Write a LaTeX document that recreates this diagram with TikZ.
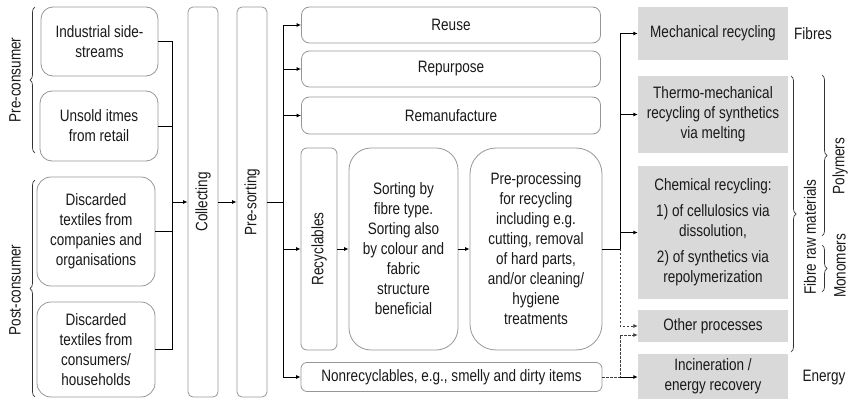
\documentclass[tikz,border=0pt]{standalone}
\usepackage{fontspec}
\setmainfont[FakeStretch=0.82]{Liberation Sans}
\usetikzlibrary{arrows.meta,decorations.pathreplacing}
\definecolor{boxline}{RGB}{150,150,150}
\definecolor{boxfill}{RGB}{217,217,217}
\definecolor{txt}{RGB}{25,25,25}
\tikzset{
  lbl/.style={font=\fontsize{16.5}{20}\selectfont, text=txt, inner sep=0pt},
  wbox/.style={lbl, draw=boxline, line width=0.8pt, align=center},
  gbox/.style={lbl, fill=boxfill, align=center, minimum width=150pt},
  conn/.style={line width=0.9pt, draw=black},
  arr/.style={conn, -{Latex[length=4.5pt,width=4pt]}},
  darr/.style={line width=0.8pt, draw=black!75, dash pattern=on 2.2pt off 1.8pt, -{Latex[length=4.5pt,width=4pt]}},
  brc/.style={draw=black!80, line width=0.7pt, decorate, decoration={brace, amplitude=5pt}},
}
\begin{document}
\begin{tikzpicture}[x=1pt,y=-1pt]
\useasboundingbox (0,0) rectangle (849,401);
% sources
\node[wbox, rounded corners=12pt, minimum width=117pt, minimum height=69pt] (src1) at (99.5,41.5) {Industrial side-\\streams};
\node[wbox, rounded corners=12pt, minimum width=118pt, minimum height=70pt] (src2) at (99,126) {Unsold itmes\\from retail};
\node[wbox, rounded corners=14pt, minimum width=118pt, minimum height=109pt] (src3) at (96,231.5) {Discarded\\textiles from\\companies and\\organisations};
\node[wbox, rounded corners=14pt, minimum width=118pt, minimum height=95pt] (src4) at (96,349.5) {Discarded\\textiles from\\consumers/\\households};
% columns
\node[wbox, rounded corners=5pt, minimum width=30pt, minimum height=390pt] (collect) at (203,202) {};
\node[lbl, rotate=90] (collecttxt) at (collect.center) {Collecting};
\node[wbox, rounded corners=5pt, minimum width=30pt, minimum height=390pt] (presort) at (252,202) {};
\node[lbl, rotate=90] (presorttxt) at (presort.center) {Pre-sorting};
% middle
\node[wbox, rounded corners=8pt, minimum width=299pt, minimum height=36pt] (reuse) at (451,25) {Reuse};
\node[wbox, rounded corners=8pt, minimum width=299pt, minimum height=36pt] (repurpose) at (451,69) {Repurpose};
\node[wbox, rounded corners=8pt, minimum width=299pt, minimum height=37pt] (reman) at (451,115.5) {Remanufacture};
\node[wbox, rounded corners=6pt, minimum width=36pt, minimum height=202pt] (recyc) at (319,249) {};
\node[lbl, rotate=90] (recyctxt) at (recyc.center) {Recyclables};
\node[wbox, rounded corners=22pt, minimum width=109pt, minimum height=202pt] (sortbox) at (403.5,249) {Sorting by\\fibre type.\\Sorting also\\by colour and\\fabric\\structure\\beneficial};
\node[wbox, rounded corners=26pt, minimum width=132pt, minimum height=202pt] (preproc) at (536,249) {Pre-processing\\for recycling\\including e.g.\\cutting, removal\\of hard parts,\\and/or cleaning/\\hygiene\\treatments};
\node[wbox, rounded corners=6pt, minimum width=301pt, minimum height=29pt] (nonrec) at (451.5,377) {Nonrecyclables, e.g., smelly and dirty items};
% right
\node[gbox, minimum height=53pt] (mech) at (713,33.5) {Mechanical recycling};
\node[gbox, minimum height=77pt] (thermo) at (713,114.5) {Thermo-mechanical\\recycling of synthetics\\via melting};
\node[gbox, minimum height=133pt] (chem) at (713,232.5) {Chemical recycling:\\[6pt]1) of cellulosics via\\dissolution,\\[6pt]2) of synthetics via\\repolymerization};
\node[gbox, minimum height=32pt] (other) at (713,326) {Other processes};
\node[gbox, minimum height=45pt] (incin) at (713,376.5) {Incineration /\\energy recovery};
\node[lbl] (fibres) at (813,34) {Fibres};
\node[lbl] (energy) at (824,378) {Energy};
% side labels
\node[lbl, rotate=90] (pre) at (15,80) {Pre-consumer};
\node[lbl, rotate=90] (post) at (15,290) {Post-consumer};
\node[lbl, rotate=90] (fibreraw) at (810,237) {Fibre raw materials};
\node[lbl, rotate=90] (poly) at (840,166) {Polymers};
\node[lbl, rotate=90] (mono) at (840,266) {Monomers};
% braces
\draw[brc] (35,153) -- (35,7);
\draw[brc] (35,397) -- (35,180);
\draw[brc] (791,76) -- (791,352);
\draw[brc] (822,75) -- (822,236);
\draw[brc] (822,245) -- (822,292);
% connectors left
\coordinate (j1) at (172,202);
\draw[conn] (src1.east) -| (j1);
\draw[conn] (src2.east) -| (j1);
\draw[conn] (src3.east) -| (j1);
\draw[conn] (src4.east) -| (j1);
\draw[arr] (j1) -- (collect.west);
\draw[arr] (collect.east) -- (presort.west);
\coordinate (j2) at (283,202);
\draw[conn] (presort.east) -- (j2);
\draw[arr] (j2) |- (reuse.west);
\draw[arr] (j2) |- (repurpose.west);
\draw[arr] (j2) |- (reman.west);
\draw[arr] (j2) |- (recyc.west);
\draw[arr] (j2) |- (nonrec.west);
\draw[arr] (recyc) -- (sortbox);
\draw[arr] (sortbox) -- (preproc);
% connectors right
\coordinate (j3) at (620,249);
\coordinate (j4) at (nonrec.east -| j3);
\draw[darr] (j3) |- (other.west);
\draw[darr] (nonrec.east) -- (j4) |- ([yshift=-9pt]other.west);
\draw[conn] (preproc.east) -- (j3);
\draw[arr] (j3) |- (mech.west);
\draw[arr] (j3) |- (thermo.west);
\draw[arr] (j3) |- (chem.west);
\draw[arr] (j4) -- (incin.west |- j4);
\end{tikzpicture}
\end{document}
